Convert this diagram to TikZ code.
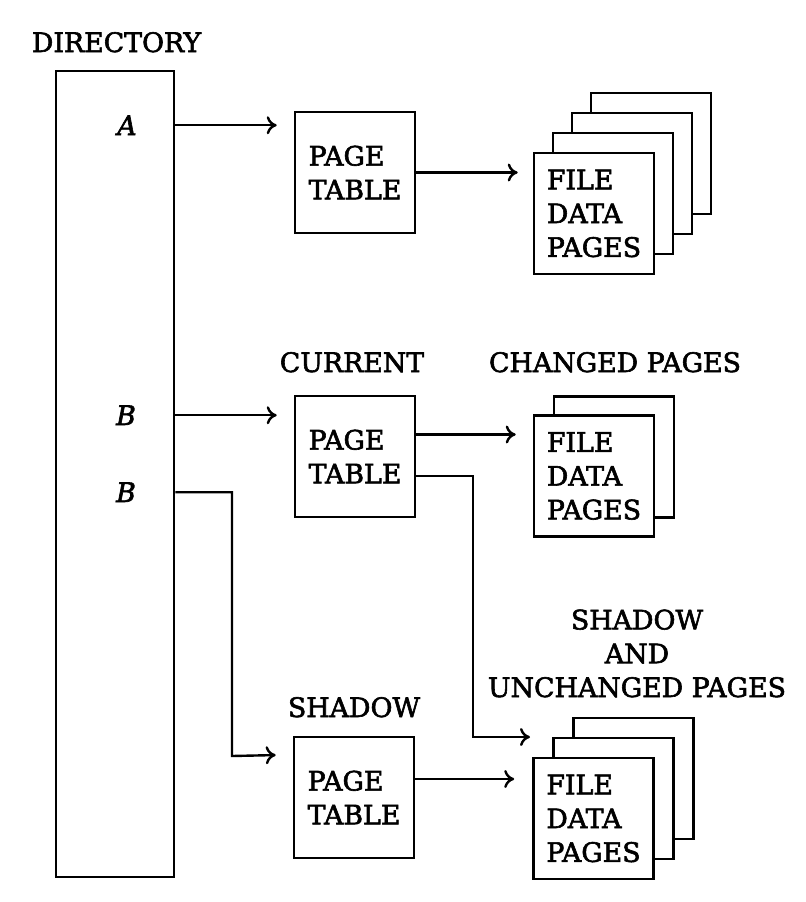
\documentclass[tikz,border=0pt]{standalone}
\usepackage{fontspec}
\setmainfont{DejaVu Serif}[FakeBold=2.2]
\usetikzlibrary{arrows.meta,calc}
\newcommand{\figfont}{\fontsize{13.4}{16.9}\selectfont}
\tikzset{
  pagebox/.style={draw, fill=white, line width=1.3pt, minimum width=60pt, minimum height=60.5pt, inner sep=0pt, align=left, font=\figfont},
  tag/.style={inner sep=0pt, anchor=base, font=\figfont},
  arr/.style={line width=1.2pt, -{To[length=5pt,width=9pt]}}
}
\begin{document}
\begin{tikzpicture}[x=0.5pt, y=-0.5pt]
\useasboundingbox (0,0) rectangle (806,902);
%directory
    \node[draw, line width=1.3pt, minimum width=59pt, minimum height=403pt, inner sep=0pt] (dir) at (115,474) {};
    \node[tag] (dirtag) at (116.5,52) {DIRECTORY};
    \node[tag] (la) at (127,135) {\itshape A};
    \node[tag] (lbcur) at (126,425) {\itshape B};
    \node[tag] (lbsh) at (126,502) {\itshape B};
%page tables
    \node[pagebox] (pta) at (355,172.5) {PAGE\\TABLE};
    \node[pagebox] (ptcur) at (355,456.5) {PAGE\\TABLE};
    \node[pagebox] (ptsh) at (354,797.5) {PAGE\\TABLE};
    \node[tag] (curtag) at (352,372) {CURRENT};
    \node[tag] (shtag) at (354,717) {SHADOW};
%file data pages
    \foreach \k in {3,2,1} \node[pagebox] at (594+19*\k, 213.5-20*\k) {};
    \node[pagebox] (fda) at (594,213.5) {FILE\\DATA\\PAGES};
    \node[pagebox] at (614,457) {};
    \node[pagebox] (fdcur) at (594,476) {FILE\\DATA\\PAGES};
    \node[tag] (chtag) at (615,372) {CHANGED PAGES};
    \foreach \k in {2,1} \node[pagebox] at (593.5+20*\k, 818.5-20*\k) {};
    \node[pagebox] (fdsh) at (593.5,818.5) {FILE\\DATA\\PAGES};
    \node[tag, align=center] (unchtag) at (637,697) {SHADOW\\AND\\UNCHANGED PAGES};
%bends
    \coordinate (bbend) at (232,756);
    \coordinate (b2in) at ($(ptsh.north west)+(0,19)$);
    \coordinate (cbend) at (473,737);
    \coordinate (shtip) at (530,737);
%arrows
    \draw[arr, shorten >=8.5pt] (dir.east |- la) -- (pta.west |- la);
    \draw[arr, shorten >=7.5pt] (pta.east) -- (fda.west |- pta.east);
    \draw[arr, shorten >=8.5pt] (dir.east |- lbcur) -- (ptcur.west |- lbcur);
    \draw[arr, shorten >=8.5pt] ($(ptcur.east)+(0,-22)$) -- ($(fdcur.west |- ptcur.east)+(0,-22)$);
    \draw[arr] ($(ptcur.east)+(0,19.5)$) -| (cbend) -- (shtip);
    \draw[arr, shorten >=8.5pt] (dir.east |- lbsh) -| (bbend) -- (b2in);
    \draw[arr, shorten >=9pt] ($(ptsh.east)+(0,-18.5)$) -- ($(fdsh.west |- ptsh.east)+(0,-18.5)$);
\end{tikzpicture}
\end{document}
